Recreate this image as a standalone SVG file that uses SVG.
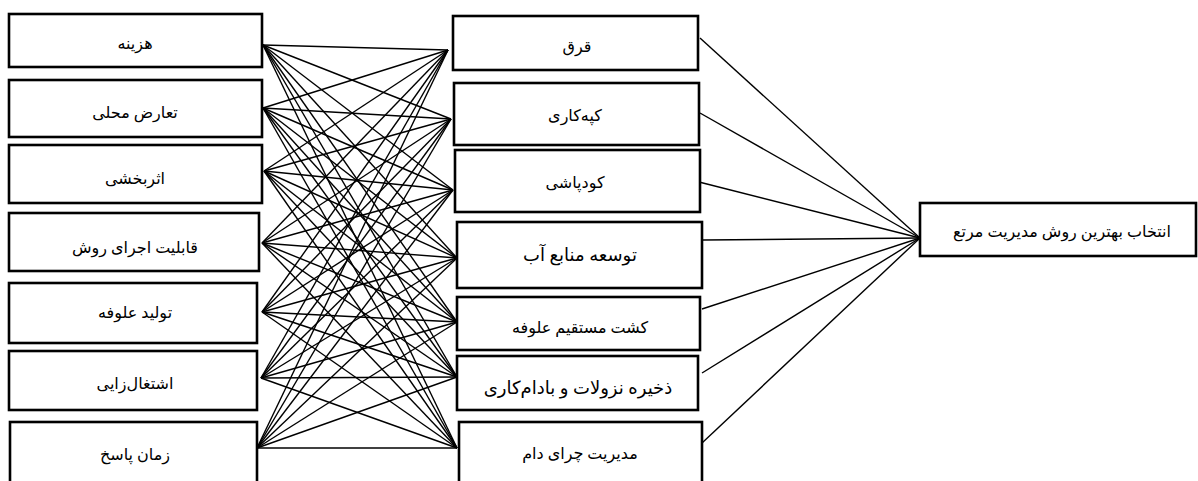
<svg xmlns="http://www.w3.org/2000/svg" width="1198" height="481" viewBox="0 0 1198 481">
<style>
.box{fill:#fff;stroke:#000;stroke-width:2.6}
.c{stroke:#000;stroke-width:1.4;fill:none}
text{font-family:"Liberation Serif","DejaVu Serif","DejaVu Sans",serif;font-size:16px;fill:#000;text-anchor:middle;dominant-baseline:central}
.big{font-size:18px}
.sm{font-size:16px}
</style>
<rect width="1198" height="481" fill="#fff"/>
<g id="connectors">
<line class="c" x1="263" y1="45" x2="448" y2="50"/><line class="c" x1="263" y1="45" x2="451" y2="119"/><line class="c" x1="263" y1="45" x2="453" y2="190"/><line class="c" x1="263" y1="45" x2="457" y2="258"/><line class="c" x1="263" y1="45" x2="457" y2="322"/><line class="c" x1="263" y1="45" x2="457" y2="377"/><line class="c" x1="263" y1="45" x2="457" y2="448"/>
<line class="c" x1="263" y1="108" x2="448" y2="50"/><line class="c" x1="263" y1="108" x2="451" y2="119"/><line class="c" x1="263" y1="108" x2="453" y2="190"/><line class="c" x1="263" y1="108" x2="457" y2="258"/><line class="c" x1="263" y1="108" x2="457" y2="322"/><line class="c" x1="263" y1="108" x2="457" y2="377"/><line class="c" x1="263" y1="108" x2="457" y2="448"/>
<line class="c" x1="264" y1="171" x2="448" y2="50"/><line class="c" x1="264" y1="171" x2="451" y2="119"/><line class="c" x1="264" y1="171" x2="453" y2="190"/><line class="c" x1="264" y1="171" x2="457" y2="258"/><line class="c" x1="264" y1="171" x2="457" y2="322"/><line class="c" x1="264" y1="171" x2="457" y2="377"/><line class="c" x1="264" y1="171" x2="457" y2="448"/>
<line class="c" x1="262" y1="243" x2="448" y2="50"/><line class="c" x1="262" y1="243" x2="451" y2="119"/><line class="c" x1="262" y1="243" x2="453" y2="190"/><line class="c" x1="262" y1="243" x2="457" y2="258"/><line class="c" x1="262" y1="243" x2="457" y2="322"/><line class="c" x1="262" y1="243" x2="457" y2="377"/><line class="c" x1="262" y1="243" x2="457" y2="448"/>
<line class="c" x1="262" y1="312" x2="448" y2="50"/><line class="c" x1="262" y1="312" x2="451" y2="119"/><line class="c" x1="262" y1="312" x2="453" y2="190"/><line class="c" x1="262" y1="312" x2="457" y2="258"/><line class="c" x1="262" y1="312" x2="457" y2="322"/><line class="c" x1="262" y1="312" x2="457" y2="377"/><line class="c" x1="262" y1="312" x2="457" y2="448"/>
<line class="c" x1="261" y1="378" x2="448" y2="50"/><line class="c" x1="261" y1="378" x2="451" y2="119"/><line class="c" x1="261" y1="378" x2="453" y2="190"/><line class="c" x1="261" y1="378" x2="457" y2="258"/><line class="c" x1="261" y1="378" x2="457" y2="322"/><line class="c" x1="261" y1="378" x2="457" y2="377"/><line class="c" x1="261" y1="378" x2="457" y2="448"/>
<line class="c" x1="257" y1="448" x2="448" y2="50"/><line class="c" x1="257" y1="448" x2="451" y2="119"/><line class="c" x1="257" y1="448" x2="453" y2="190"/><line class="c" x1="257" y1="448" x2="457" y2="258"/><line class="c" x1="257" y1="448" x2="457" y2="322"/><line class="c" x1="257" y1="448" x2="457" y2="377"/><line class="c" x1="257" y1="448" x2="457" y2="448"/>
<line class="c" x1="700" y1="38" x2="920" y2="238"/>
<line class="c" x1="700" y1="113" x2="920" y2="238"/>
<line class="c" x1="699" y1="182" x2="920" y2="238"/>
<line class="c" x1="703" y1="240" x2="920" y2="238"/>
<line class="c" x1="702" y1="309" x2="920" y2="238"/>
<line class="c" x1="702" y1="373" x2="920" y2="238"/>
<line class="c" x1="702" y1="443" x2="920" y2="238"/>
</g>
<g id="l1"><rect class="box" x="9" y="14" width="253" height="53"/><text x="135" y="43">هزینه</text></g>
<g id="l2"><rect class="box" x="9" y="80" width="253" height="57"/><text x="135" y="112">تعارض محلی</text></g>
<g id="l3"><rect class="box" x="9" y="145" width="253" height="58"/><text x="135" y="178">اثربخشی</text></g>
<g id="l4"><rect class="box" x="9" y="213" width="250" height="58"/><text x="135" y="247">قابلیت اجرای روش</text></g>
<g id="l5"><rect class="box" x="9" y="283" width="248" height="60"/><text x="135" y="312">تولید علوفه</text></g>
<g id="l6"><rect class="box" x="9" y="351" width="248" height="59"/><text x="135" y="383">اشتغال‌زایی</text></g>
<g id="l7"><rect class="box" x="10" y="422" width="247" height="70"/><text x="135" y="454">زمان پاسخ</text></g>
<g id="m1"><rect class="box" x="453" y="16" width="245" height="54"/><text x="577" y="46">قرق</text></g>
<g id="m2"><rect class="box" x="454" y="83" width="245" height="62"/><text x="575" y="115">کپه‌کاری</text></g>
<g id="m3"><rect class="box" x="455" y="150" width="245" height="62"/><text x="575" y="182">کودپاشی</text></g>
<g id="m4"><rect class="box" x="457" y="222" width="245" height="66"/><text class="big" x="580" y="255">توسعه منابع آب</text></g>
<g id="m5"><rect class="box" x="457" y="297" width="243" height="53"/><text x="580" y="327">کشت مستقیم علوفه</text></g>
<g id="m6"><rect class="box" x="457" y="356" width="241" height="54"/><text class="big" x="578" y="388">ذخیره نزولات و بادام‌کاری</text></g>
<g id="m7"><rect class="box" x="459" y="422" width="243" height="70"/><text x="580" y="453">مدیریت چرای دام</text></g>
<g id="target"><rect class="box" x="920" y="203" width="276" height="53"/><text class="sm" x="1062" y="231">انتخاب بهترین روش مدیریت مرتع</text></g>
</svg>
